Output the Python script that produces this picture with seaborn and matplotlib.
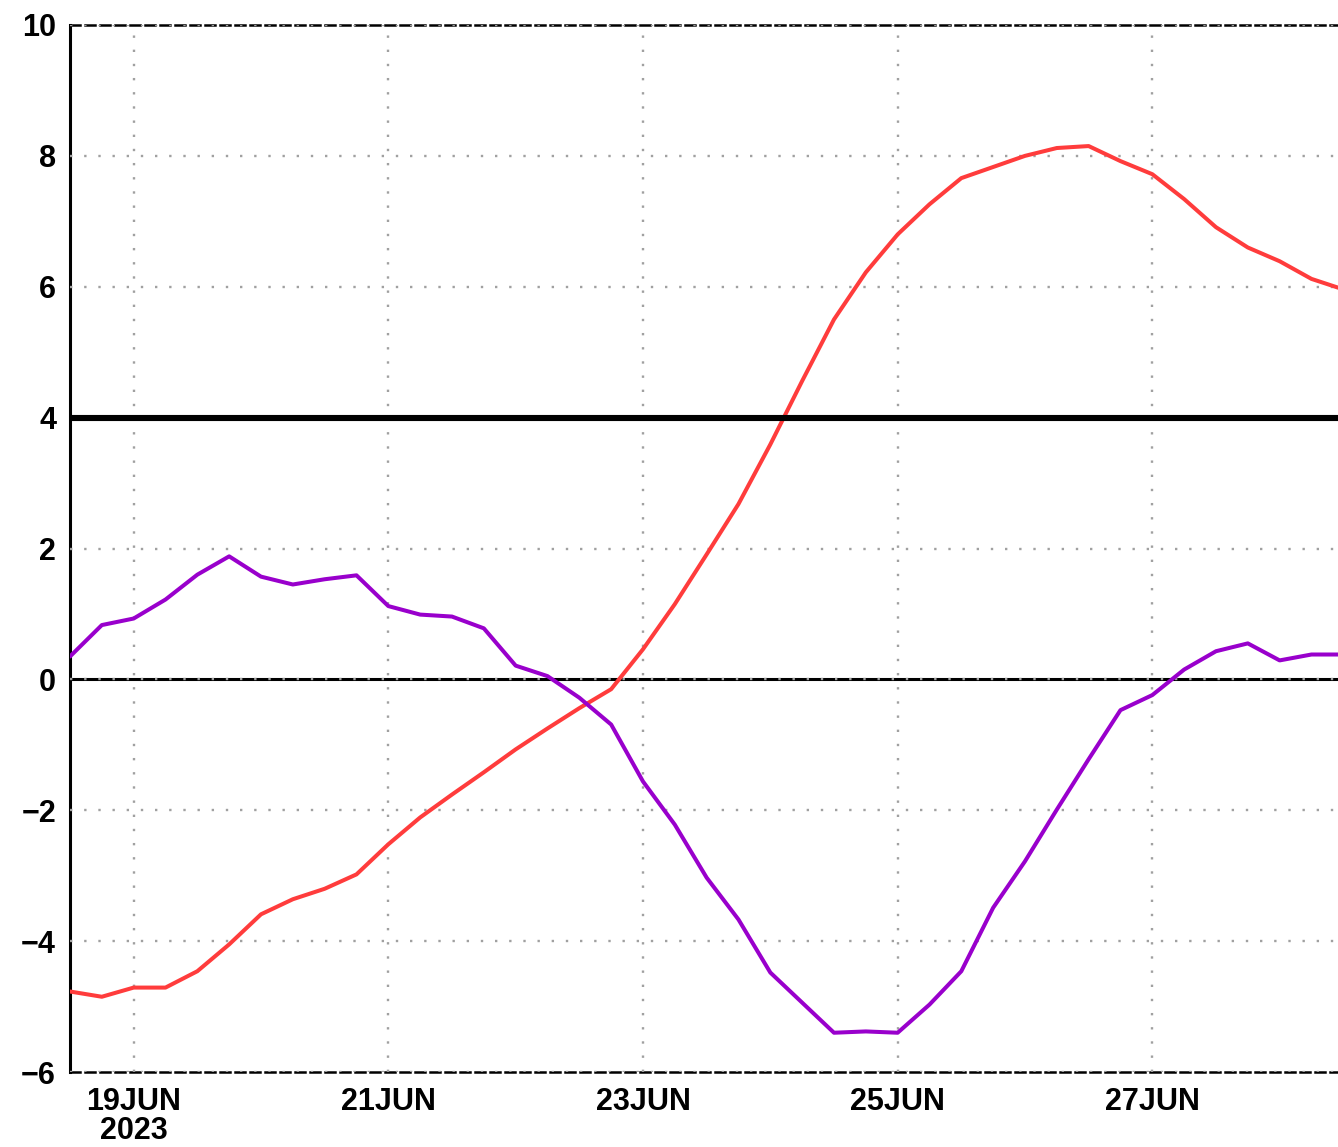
import matplotlib
matplotlib.use("Agg")
import matplotlib.pyplot as plt
import seaborn as sns
import pandas as pd

# ---- data (6-hourly, 2023-06-18 12Z .. 2023-06-28 12Z) ----
start_time = "2023-06-18 12:00"
n_steps = 41
red_values = [-4.77, -4.85, -4.71, -4.71, -4.46, -4.05, -3.59, -3.36, -3.20, -2.98,
              -2.52, -2.11, -1.76, -1.42, -1.07, -0.75, -0.44, -0.15, 0.46, 1.15,
              1.91, 2.68, 3.59, 4.56, 5.50, 6.22, 6.80, 7.26, 7.66, 7.83,
              8.00, 8.12, 8.15, 7.92, 7.72, 7.34, 6.91, 6.60, 6.39, 6.12, 5.96]
purple_values = [0.35, 0.83, 0.93, 1.22, 1.60, 1.88, 1.57, 1.45, 1.53, 1.59,
                 1.12, 0.99, 0.96, 0.78, 0.21, 0.05, -0.28, -0.69, -1.56, -2.22,
                 -3.03, -3.67, -4.48, -4.94, -5.40, -5.38, -5.40, -4.97, -4.46, -3.49,
                 -2.78, -1.99, -1.22, -0.47, -0.24, 0.15, 0.43, 0.55, 0.29, 0.38, 0.38]
xtick_dates = ["2023-06-19", "2023-06-21", "2023-06-23", "2023-06-25", "2023-06-27"]
xtick_labels = ["19JUN\n2023", "21JUN", "23JUN", "25JUN", "27JUN"]
yticks = [-6, -4, -2, 0, 2, 4, 6, 8, 10]
threshold = 4

times = pd.date_range(start_time, periods=n_steps, freq="6h")
df = pd.DataFrame({"time": list(times) * 2,
                   "value": red_values + purple_values,
                   "series": ["red"] * n_steps + ["purple"] * n_steps})

sns.set_theme(style="white")
plt.rcParams['font.family'] = ['Liberation Sans Narrow', 'Liberation Sans', 'DejaVu Sans']
plt.rcParams['text.color'] = 'black'
plt.rcParams['xtick.color'] = 'black'
plt.rcParams['ytick.color'] = 'black'

fig = plt.figure(figsize=(13.38, 11.47), dpi=100)
ax = fig.add_axes([70 / 1338, 1 - 1072 / 1147, 1 - 70 / 1338, (1072 - 25) / 1147])

sns.lineplot(data=df, x="time", y="value", hue="series",
             palette={"red": "#ff3c3c", "purple": "#9900cc"},
             linewidth=2.9, legend=False, ax=ax, zorder=3)

ax.axhline(threshold, color="black", linewidth=4.4, zorder=4)
ax.axhline(0, color="black", linewidth=2.2, zorder=2)

ax.set_ylim(-6, 10)
ax.set_xlim(pd.Timestamp("2023-06-18 12:00"), pd.Timestamp("2023-06-28 11:00"))
ax.set_yticks(yticks)
ax.set_yticklabels([str(v).replace("-", "\u2212") for v in yticks])
ax.set_xticks([pd.Timestamp(d) for d in xtick_dates])
ax.set_xticklabels(xtick_labels, linespacing=0.95)

ax.grid(True, color="#a0a0a0", linestyle=(0, (1, 5)), linewidth=1.7, zorder=5)
ax.set_axisbelow(False)

ax.set_xlabel("")
ax.set_ylabel("")

ax.spines["left"].set_color("black")
ax.spines["left"].set_linewidth(2.2)
ax.spines["right"].set_visible(False)
for s in ["top", "bottom"]:
    ax.spines[s].set_color("black")
    ax.spines[s].set_linewidth(1.8)
    ax.spines[s].set_linestyle((0, (4, 2)))

ax.tick_params(axis="both", which="major", direction="out", length=6, width=2,
               color="black", labelcolor="black", labelsize=22)
ax.tick_params(axis="x", pad=5)
ax.tick_params(axis="y", pad=4)
for lab in ax.get_xticklabels() + ax.get_yticklabels():
    lab.set_fontweight("bold")

fig.savefig("out.png", dpi=100, facecolor="white")
